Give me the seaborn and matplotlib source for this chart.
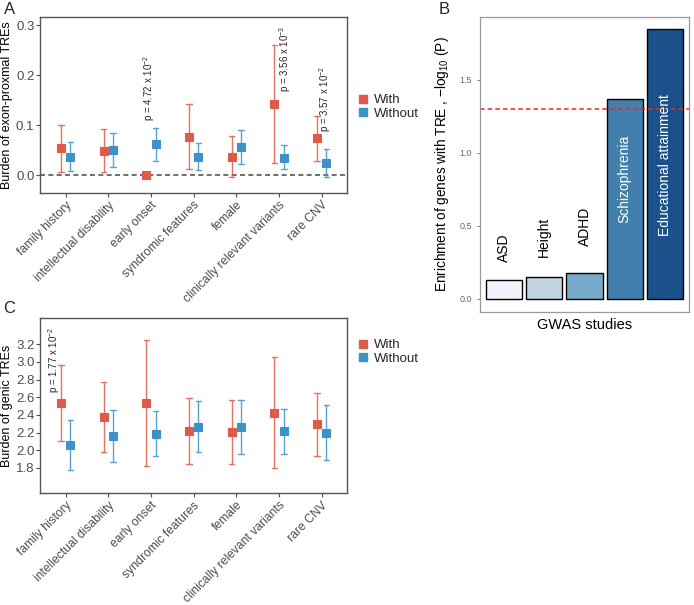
import numpy as np
import pandas as pd
import matplotlib
matplotlib.use("Agg")
import matplotlib.pyplot as plt
from matplotlib.lines import Line2D
import seaborn as sns

categories = ["family history", "intellectual disability", "early onset",
              "syndromic features", "female", "clinically relevant variants", "rare CNV"]
groups = ["With", "Without"]

# A: burden of exon-proximal TREs (estimate, lower, upper)
exon_with = [0.054, 0.049, 0.0, 0.077, 0.037, 0.143, 0.074]
exon_with_lo = [0.007, 0.007, 0.0, 0.012, -0.004, 0.025, 0.029]
exon_with_hi = [0.100, 0.092, 0.0, 0.142, 0.078, 0.260, 0.118]
exon_without = [0.037, 0.051, 0.062, 0.037, 0.056, 0.035, 0.024]
exon_without_lo = [0.008, 0.016, 0.029, 0.010, 0.022, 0.012, -0.003]
exon_without_hi = [0.066, 0.085, 0.095, 0.064, 0.090, 0.060, 0.052]

# C: burden of genic TREs
genic_with = [2.54, 2.375, 2.53, 2.215, 2.21, 2.425, 2.295]
genic_with_lo = [2.11, 1.98, 1.82, 1.84, 1.85, 1.80, 1.94]
genic_with_hi = [2.96, 2.77, 3.25, 2.59, 2.57, 3.06, 2.65]
genic_without = [2.065, 2.165, 2.19, 2.265, 2.26, 2.22, 2.195]
genic_without_lo = [1.78, 1.87, 1.94, 1.98, 1.96, 1.96, 1.89]
genic_without_hi = [2.34, 2.46, 2.44, 2.56, 2.57, 2.47, 2.51]

# B: GWAS enrichment
gwas = ["ASD", "Height", "ADHD", "Schizophrenia", "Educational attainment"]
gwas_logp = [0.124, 0.145, 0.178, 1.37, 1.845]
threshold = -np.log10(0.05)

colors = {"With": "#DD5C49", "Without": "#3D92C9"}
bar_colors = ["#EFF3FF", "#BDD7E7", "#6BAED6", "#3182BD", "#08519C"]

sns.set_theme(style="white")
plt.rcParams["font.family"] = ["Liberation Sans", "DejaVu Sans"]
plt.rcParams["mathtext.default"] = "regular"


def long_table(w, wl, wh, wo, wol, woh):
    # three rows per group (lower, estimate, upper) -> median + min/max interval
    rows = []
    for i, c in enumerate(categories):
        for g, vals in zip(groups, [(wl[i], w[i], wh[i]), (wol[i], wo[i], woh[i])]):
            for v in vals:
                rows.append({"category": c, "group": g, "value": v})
    return pd.DataFrame(rows)


def burden_panel(ax, df, ylabel):
    sns.pointplot(data=df, x="category", y="value", hue="group",
                  order=categories, hue_order=groups, palette=colors,
                  estimator="median", errorbar=lambda v: (v.min(), v.max()),
                  dodge=0.22, markers="s", linestyles="none", capsize=0.13,
                  err_kws={"linewidth": 1.0, "alpha": 0.85},
                  markersize=5.6, markeredgewidth=0.8, legend=False, ax=ax)
    ax.set_xlim(-0.6, len(categories) - 0.4)
    ax.set_xlabel("")
    ax.set_ylabel(ylabel, fontsize=9.0, color="black")
    ax.yaxis.set_label_coords(-0.088, 0.5)
    ax.tick_params(axis="x", labelsize=8.7, colors="#4D4D4D", length=3, width=0.8,
                   bottom=True, labelrotation=45, pad=1.5)
    ax.tick_params(axis="y", labelsize=9.5, colors="#4D4D4D", length=3, width=0.8,
                   left=True, pad=1)
    for lab in ax.get_xticklabels():
        lab.set_ha("right")
        lab.set_rotation_mode("anchor")
    for s in ax.spines.values():
        s.set_color("#555555")
        s.set_linewidth(1.0)


def legend(fig, y):
    handles = [Line2D([], [], marker="s", linestyle="none", color=colors[g],
                      markersize=6) for g in groups]
    fig.legend(handles, groups, loc="center left", bbox_to_anchor=(0.508, y),
               frameon=False, fontsize=9.5, handlelength=0.8, handletextpad=0.4,
               labelspacing=0.1, borderaxespad=0)


fig = plt.figure(figsize=(6.94, 6.05), dpi=100)
axA = fig.add_axes([0.0576, 0.681, 0.443, 0.291])
axB = fig.add_axes([0.6916, 0.4843, 0.3012, 0.4877])
axC = fig.add_axes([0.0576, 0.185, 0.443, 0.289])

# A
dfA = long_table(exon_with, exon_with_lo, exon_with_hi,
                 exon_without, exon_without_lo, exon_without_hi)
burden_panel(axA, dfA, "Burden of exon-proxmal TREs")
axA.axhline(0, color="#555555", linestyle=(0, (3, 2)), linewidth=1.2, zorder=0)
axA.set_ylim(-0.036, 0.317)
axA.set_yticks([0.0, 0.1, 0.2, 0.3])
axA.set_yticklabels(["0.0", "0.1", "0.2", "0.3"])
axA.text(2 - 0.05, 0.108, r"p = 4.72 x 10$^{-2}$", rotation=90, ha="center",
         va="bottom", fontsize=7)
axA.text(5 + 0.14, 0.166, r"p = 3.56 x 10$^{-3}$", rotation=90, ha="center",
         va="bottom", fontsize=7)
axA.text(6 + 0.07, 0.086, r"p = 3.57 x 10$^{-2}$", rotation=90, ha="center",
         va="bottom", fontsize=7)
legend(fig, 0.823)

# C
dfC = long_table(genic_with, genic_with_lo, genic_with_hi,
                 genic_without, genic_without_lo, genic_without_hi)
burden_panel(axC, dfC, "Burden of genic TREs")
axC.set_ylim(1.516, 3.495)
yt = [1.8, 2.0, 2.2, 2.4, 2.6, 2.8, 3.0, 3.2]
axC.set_yticks(yt)
axC.set_yticklabels([f"{v:.1f}" for v in yt])
axC.text(0 - 0.28, 2.647, r"p = 1.77 x 10$^{-2}$", rotation=90, ha="center",
         va="bottom", fontsize=7)
legend(fig, 0.418)

# B
dfB = pd.DataFrame({"study": gwas, "logp": gwas_logp})
sns.barplot(data=dfB, x="study", y="logp", hue="study", order=gwas,
            palette=bar_colors, width=0.9, edgecolor="black", linewidth=1.0,
            legend=False, ax=axB)
axB.axhline(threshold, color="#FF2020", linestyle=(0, (3, 2)), linewidth=1.1)
axB.set_xlim(-0.6, len(gwas) - 0.4)
axB.set_ylim(-0.092, 1.93)
axB.set_yticks([0.0, 0.5, 1.0, 1.5])
axB.set_yticklabels(["0.0", "0.5", "1.0", "1.5"])
axB.set_xticks([])
axB.tick_params(axis="y", labelsize=6.5, colors="#666666", length=2.5, width=0.6, left=True)
axB.set_xlabel("GWAS studies", fontsize=10.5, color="black", labelpad=4)
axB.set_ylabel(r"Enrichment of genes with TRE , $-$log$_{10}$ (P)", fontsize=9.8,
               color="black", labelpad=6)
for s in axB.spines.values():
    s.set_color("#999999")
    s.set_linewidth(0.9)
label_pos = [(0.248, "bottom", "black"), (0.282, "bottom", "black"),
             (0.358, "bottom", "black"), (1.12, "top", "white"), (1.40, "top", "white")]
for i, (name, (ypos, va, col)) in enumerate(zip(gwas, label_pos)):
    axB.text(i, ypos, name, rotation=90, ha="center", va=va, color=col, fontsize=10)

# panel letters
fig.text(0.005, 0.997, "A", fontsize=12, va="top")
fig.text(0.632, 0.997, "B", fontsize=12, va="top")
fig.text(0.005, 0.502, "C", fontsize=12, va="top")

fig.savefig("out.png", dpi=100)
plt.close(fig)
